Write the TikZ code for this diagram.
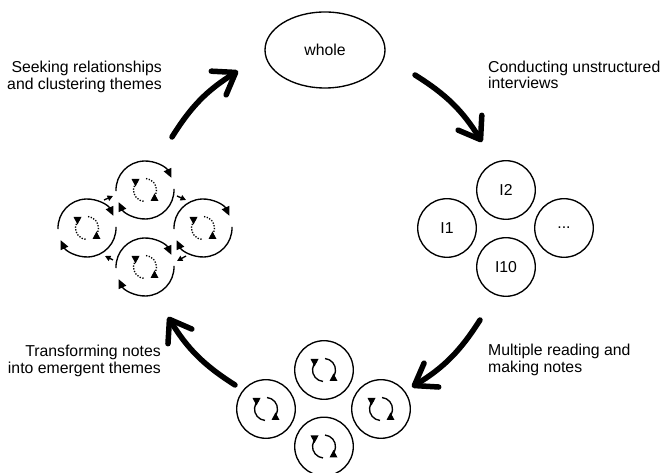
\documentclass[tikz,border=0pt]{standalone}
\usepackage{fontspec}
\setmainfont{Liberation Sans}
\usetikzlibrary{arrows.meta,shapes.geometric}
\tikzset{
  thin line/.style={line width=1.35pt},
  dotline/.style={line width=1.3pt,dash pattern=on 1.3pt off 1.5pt},
  ring/.style={circle,draw,thin line,minimum size=58.6pt,inner sep=0pt,font=\fontsize{15.8}{16.7}\selectfont},
  label text/.style={font=\fontsize{15.8}{16.7}\selectfont,inner sep=0pt},
  bigarrow/.style={line width=5.5pt,line cap=round,-{Straight Barb[length=20pt,width=28pt,round]}},
  smallarrow/.style={thin line,-{Triangle[length=5.5pt,width=5.5pt]}},
  ringarrow/.style={thin line,-{Triangle[length=9pt,width=8pt]}},
  pics/refresh/.style={code={
    \draw[thin line,#1] (130:11.5) arc[start angle=130,end angle=265,radius=11.5];
    \draw[thin line,#1] (85:11.5) arc[start angle=85,end angle=-35,radius=11.5];
    \fill (-13.5,11) -- (-5.5,11) -- (-9.5,3.5) -- cycle;
    \fill (5.5,-11) -- (13.5,-11) -- (9.5,-3.5) -- cycle;
  }},
  pics/cluster/.style={code={
    \draw[ringarrow] (182:29) arc[start angle=182,end angle=25,radius=29];
    \draw[ringarrow] (2:29) arc[start angle=2,end angle=-155,radius=29];
    \pic {refresh=dotline};
  }},
}
\begin{document}
\begin{tikzpicture}[x=1pt,y=1pt]
\useasboundingbox (0,0) rectangle (661,473);
\clip (0,0) rectangle (661,473);
% whole
\node[ellipse,draw,thin line,minimum width=120pt,minimum height=76pt,inner sep=0pt,font=\fontsize{15.8}{16.7}\selectfont] (whole) at (325,423) {whole};
% interviews
\node[ring] (i2) at (506,283) {I2};
\node[ring] (i1) at (447,245) {I1};
\node[ring] (idots) at (564,245) {...};
\node[ring] (i10) at (506,206) {I10};
% notes
\node[ring] (nt) at (324,103) {};
\node[ring] (nl) at (266,64) {};
\node[ring] (nr) at (381,64) {};
\node[ring] (nb) at (324,26.5) {};
\foreach \n in {nt,nl,nr,nb} \pic at (\n) {refresh=solid};
% cluster
\coordinate (ct) at (145,283);
\coordinate (cl) at (87,245);
\coordinate (cr) at (203,245);
\coordinate (cb) at (145,206);
\foreach \n in {ct,cl,cr,cb} \pic at (\n) {cluster};
% small arrows between clusters
\coordinate (s1a) at (104,273); \coordinate (s1b) at (113,277);
\coordinate (s2a) at (177,277); \coordinate (s2b) at (186,273);
\coordinate (s3a) at (186,217); \coordinate (s3b) at (177,212);
\coordinate (s4a) at (113,213); \coordinate (s4b) at (105,217);
\draw[smallarrow] (s1a) -- (s1b);
\draw[smallarrow] (s2a) -- (s2b);
\draw[smallarrow] (s3a) -- (s3b);
\draw[smallarrow] (s4a) -- (s4b);
% big arrows
\coordinate (a1s) at (172,336); \coordinate (a1e) at (238,402);
\coordinate (a2s) at (415,398); \coordinate (a2e) at (482,331);
\coordinate (a3s) at (480,153); \coordinate (a3e) at (412,86);
\coordinate (a4s) at (235,88);  \coordinate (a4e) at (168,156);
\draw[bigarrow] (a1s) to[bend left=13] (a1e);
\draw[bigarrow] (a2s) to[bend left=13] (a2e);
\draw[bigarrow] (a3s) to[bend left=13] (a3e);
\draw[bigarrow] (a4s) to[bend left=13] (a4e);
% labels
\node[label text,align=right,anchor=base east] (lseek) at (162,383.7) {Seeking relationships\\and clustering themes};
\node[label text,align=left,anchor=base west] (lcond) at (488,384) {Conducting unstructured\\interviews};
\node[label text,align=right,anchor=base east] (ltrans) at (161,99.7) {Transforming notes\\into emergent themes};
\node[label text,align=left,anchor=base west] (lmult) at (488,100.5) {Multiple reading and\\making notes};
\end{tikzpicture}
\end{document}
